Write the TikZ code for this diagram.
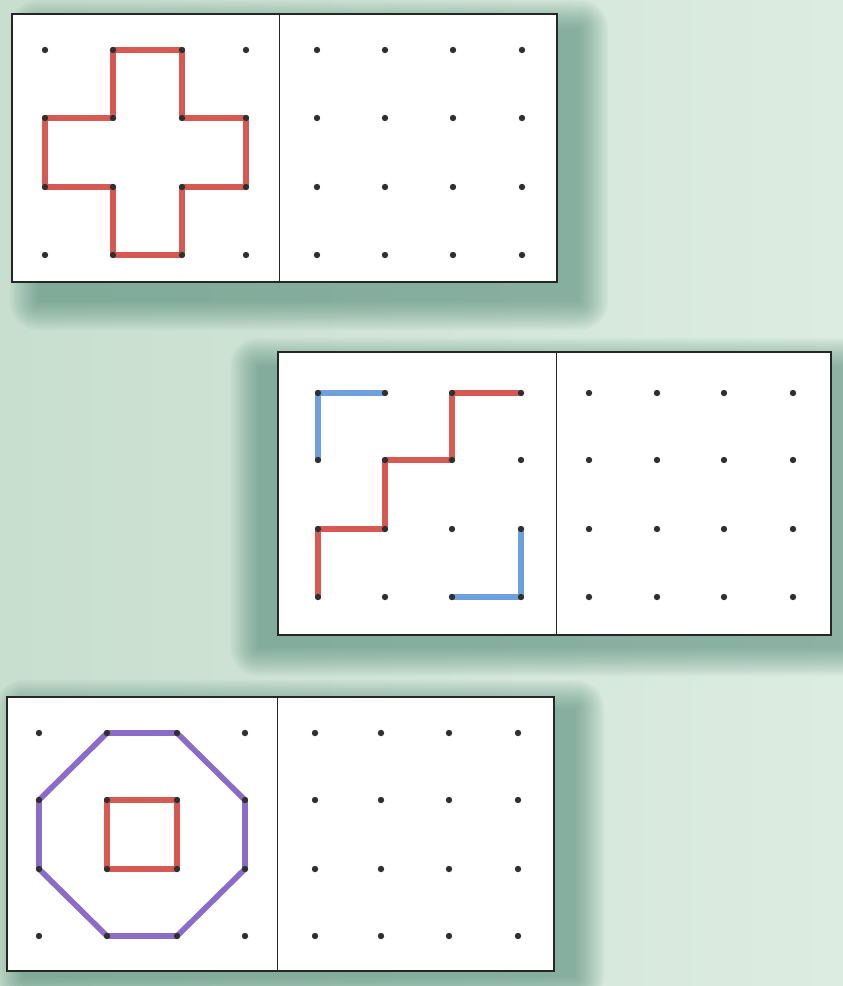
\documentclass[tikz,border=0pt]{standalone}
\usetikzlibrary{calc}
\definecolor{bgleft}{HTML}{C8DECE}
\definecolor{bgright}{HTML}{DDECE1}
\definecolor{shc}{HTML}{3F7F6C}
\definecolor{penred}{HTML}{D65A52}
\definecolor{penblue}{HTML}{6DA0DC}
\definecolor{penpurple}{HTML}{8B6CC8}
\definecolor{dotc}{HTML}{303030}
\tikzset{
  board/.style={draw=black!85, line width=1.1pt, fill=white},
  divider/.style={draw=black!85, line width=0.9pt},
  band/.style={line width=5.6pt, line join=round, line cap=round},
  redband/.style={band, draw=penred},
  blueband/.style={band, draw=penblue},
  purpleband/.style={band, draw=penpurple},
  peg/.style={fill=dotc},
  shadowlayer/.style={fill=shc, fill opacity=0.045}
}
\newcommand\softshade[4]{%
  \foreach \k in {0,2,...,28}{%
    \fill[shadowlayer, rounded corners=\k pt] (#1-\k,#2-\k) rectangle (#3+\k,#4+\k);}}
\begin{document}
\begin{tikzpicture}[x=1pt,y=-1pt]
\useasboundingbox (0,0) rectangle (843,986);
% background
\shade[left color=bgleft, right color=bgright] (0,0) rectangle (843,986);
% shadows
\softshade{38}{28}{580}{302}
\softshade{258}{366}{842}{648}
\softshade{24}{708}{576}{978}
% boards
\path[board] (12,14) rectangle (557,282);
\draw[divider] (279,14) -- (279,282);
\path[board] (278,352) rectangle (831,635);
\draw[divider] (556,352) -- (556,635);
\path[board] (7,697) rectangle (554,971);
\draw[divider] (277,697) -- (277,971);
% peg coordinates
\foreach \x [count=\i] in {45,113,182,246}
  \foreach \y [count=\j] in {50,118,187,255}
    \coordinate (a-\i-\j) at (\x,\y);
\foreach \x [count=\i] in {317,385,453,522}
  \foreach \y [count=\j] in {50,118,187,255}
    \coordinate (b-\i-\j) at (\x,\y);
\foreach \x [count=\i] in {318,385,452,521}
  \foreach \y [count=\j] in {393,460,529,597}
    \coordinate (c-\i-\j) at (\x,\y);
\foreach \x [count=\i] in {589,657,724,793}
  \foreach \y [count=\j] in {393,460,529,597}
    \coordinate (d-\i-\j) at (\x,\y);
\foreach \x [count=\i] in {39,107,177,245}
  \foreach \y [count=\j] in {733,800,869,936}
    \coordinate (e-\i-\j) at (\x,\y);
\foreach \x [count=\i] in {315,381,449,518}
  \foreach \y [count=\j] in {733,800,869,936}
    \coordinate (f-\i-\j) at (\x,\y);
% cross
\draw[redband] (a-2-1) -- (a-3-1) -- (a-3-2) -- (a-4-2) -- (a-4-3) -- (a-3-3) -- (a-3-4)
  -- (a-2-4) -- (a-2-3) -- (a-1-3) -- (a-1-2) -- (a-2-2) -- cycle;
% stairs
\draw[blueband] (c-1-2) -- (c-1-1) -- (c-2-1);
\draw[redband] (c-1-4) -- (c-1-3) -- (c-2-3) -- (c-2-2) -- (c-3-2) -- (c-3-1) -- (c-4-1);
\draw[blueband] (c-3-4) -- (c-4-4) -- (c-4-3);
% octagon and square
\draw[purpleband] (e-2-1) -- (e-3-1) -- (e-4-2) -- (e-4-3) -- (e-3-4) -- (e-2-4)
  -- (e-1-3) -- (e-1-2) -- cycle;
\draw[redband] (e-2-2) -- (e-3-2) -- (e-3-3) -- (e-2-3) -- cycle;
% pegs
\foreach \b in {a,b,c,d,e,f}
  \foreach \i in {1,...,4}
    \foreach \j in {1,...,4}
      \fill[peg] (\b-\i-\j) circle (3.2pt);
\end{tikzpicture}
\end{document}
